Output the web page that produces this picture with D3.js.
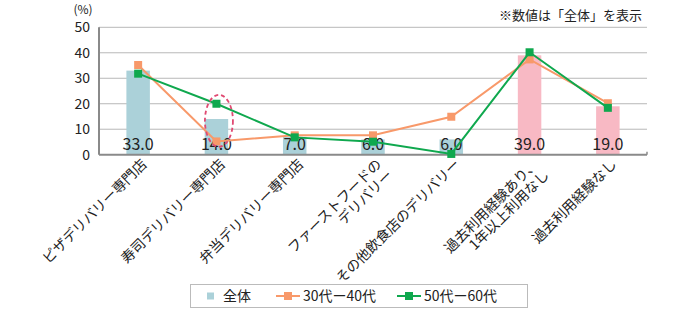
<!DOCTYPE html>
<html>
<head>
<meta charset="utf-8">
<script src="https://cdn.jsdelivr.net/npm/d3@7"></script>
<style>
body { margin: 0; background: #fff; }
text { font-family: "Noto Sans CJK JP", "Noto Sans", sans-serif; fill: #222; }
</style>
</head>
<body>
<div id="canvas"></div>
<script>
// ----------------------------------------------------------
// DATA -----------------------------------------------------
// ----------------------------------------------------------
var categories = [
["ピザデリバリー専門店"],
["寿司デリバリー専門店"],
["弁当デリバリー専門店"],
["ファーストフードの", "デリバリー"],
["その他飲食店のデリバリー"],
["過去利用経験あり、", "1年以上利用なし"],
["過去利用経験なし"]
];
var total_values = [33.0, 14.0, 7.0, 6.0, 6.0, 39.0, 19.0];
var age_30_40 = [35.2, 5.2, 7.6, 7.6, 14.9, 37.4, 20.2];
var age_50_60 = [31.8, 20.0, 6.8, 5.1, 0.3, 40.2, 18.4];
var y_ticks = [0, 10, 20, 30, 40, 50];
var series_names = ["全体", "30代ー40代", "50代ー60代"];

var colors = {
bar_blue: "#abd1d9",
bar_pink: "#f8b9c4",
orange: "#f8996a",
green: "#0fa84e",
grid: "#b8b8b8",
axis: "#8a8a8a"
};

// ----------------------------------------------------------
// STRUCTURE ------------------------------------------------
// ----------------------------------------------------------
var svg = d3.select("#canvas").append("svg")
.attr("width", 690)
.attr("height", 310);

var plot = { left: 99, right: 647, top: 27.3, bottom: 154.7 };

var keys = categories.map((c, i) => "c" + i);

var xScale = d3.scaleBand()
.domain(keys)
.range([plot.left, plot.right]);

var yScale = d3.scaleLinear()
.domain([0, 50])
.range([plot.bottom, plot.top]);

var cx = (i) => xScale(keys[i]) + xScale.bandwidth() / 2;

// grid lines
svg.append("g")
.selectAll("line")
.data(y_ticks.filter((t) => t > 0))
.enter()
.append("line")
.attr("x1", plot.left)
.attr("x2", plot.right)
.attr("y1", (t) => yScale(t))
.attr("y2", (t) => yScale(t))
.attr("stroke", colors.grid)
.attr("stroke-width", 1);

// y axis labels
var yAxis = svg.append("g")
.attr("transform", `translate(${plot.left}, 0)`)
.call(d3.axisLeft(yScale).tickValues(y_ticks).tickSize(0).tickPadding(9));
yAxis.select(".domain").remove();
yAxis.selectAll("text")
.style("font-family", "'Noto Sans CJK JP', sans-serif")
.style("font-size", "14px")
.attr("fill", "#222");

svg.append("text")
.attr("x", 83)
.attr("y", 14)
.attr("text-anchor", "middle")
.style("font-size", "12px")
.text("(%)");

svg.append("text")
.attr("x", 642)
.attr("y", 20)
.attr("text-anchor", "end")
.style("font-size", "13px")
.text("※数値は「全体」を表示");

// BARS -----------------------------------------------------
var barW = xScale.bandwidth() * 0.3;
svg.append("g")
.selectAll("rect")
.data(total_values)
.enter()
.append("rect")
.attr("x", (d, i) => cx(i) - barW / 2)
.attr("y", (d) => yScale(d))
.attr("width", barW)
.attr("height", (d) => yScale(0) - yScale(d))
.attr("fill", (d, i) => i >= 5 ? colors.bar_pink : colors.bar_blue);

// axes lines
svg.append("line")
.attr("x1", plot.left).attr("x2", plot.left)
.attr("y1", plot.top).attr("y2", plot.bottom)
.attr("stroke", colors.axis).attr("stroke-width", 2);
svg.append("line")
.attr("x1", plot.left).attr("x2", plot.right)
.attr("y1", plot.bottom).attr("y2", plot.bottom)
.attr("stroke", colors.axis).attr("stroke-width", 2);
svg.append("line")
.attr("x1", plot.right).attr("x2", plot.right)
.attr("y1", plot.bottom).attr("y2", plot.bottom - 3)
.attr("stroke", colors.axis).attr("stroke-width", 1.5);

// bar value labels
svg.append("g")
.selectAll("text")
.data(total_values)
.enter()
.append("text")
.attr("x", (d, i) => cx(i))
.attr("y", yScale(0) - 5)
.attr("text-anchor", "middle")
.style("font-size", "16px")
.text((d) => d.toFixed(1));

// LINES ----------------------------------------------------
function drawSeries(values, color) {
var line = d3.line()
.x((d, i) => cx(i))
.y((d) => yScale(d));
svg.append("path")
.datum(values)
.attr("d", line)
.attr("fill", "none")
.attr("stroke", color)
.attr("stroke-width", 2);
svg.append("g")
.selectAll("rect")
.data(values)
.enter()
.append("rect")
.attr("x", (d, i) => cx(i) - 4)
.attr("y", (d) => yScale(d) - 4)
.attr("width", 8)
.attr("height", 8)
.attr("fill", color);
}
drawSeries(age_30_40, colors.orange);
drawSeries(age_50_60, colors.green);

// highlight ellipse
svg.append("ellipse")
.attr("cx", cx(1) + 2.5)
.attr("cy", yScale(13.3))
.attr("rx", 14)
.attr("ry", 26)
.attr("fill", "none")
.attr("stroke", "#e04a72")
.attr("stroke-width", 1.8)
.attr("stroke-dasharray", "4,3");

// CATEGORY LABELS ------------------------------------------
var labels = svg.append("g")
.selectAll("text")
.data(categories)
.enter()
.append("text")
.attr("transform", (d, i) => `translate(${cx(i) + 6}, ${plot.bottom + 7}) rotate(-45)`)
.attr("text-anchor", "end")
.style("font-size", "14px");
labels.each(function (d) {
var t = d3.select(this);
d.forEach((s, k) => {
t.append("tspan")
.attr("x", 0)
.attr("dy", k === 0 ? "0.35em" : "1.1em")
.text(s);
});
});

// LEGEND ---------------------------------------------------
var legend = svg.append("g");
legend.append("rect")
.attr("x", 190.5).attr("y", 284.5)
.attr("width", 337).attr("height", 23)
.attr("fill", "#fff")
.attr("stroke", "#bbb");
var ly = 296;
legend.append("rect")
.attr("x", 207).attr("y", ly - 3.5)
.attr("width", 7).attr("height", 7)
.attr("fill", colors.bar_blue);
legend.append("text")
.attr("x", 223).attr("y", ly + 5)
.style("font-size", "14px")
.text(series_names[0]);
[[276, colors.orange, series_names[1]], [397, colors.green, series_names[2]]].forEach((it) => {
legend.append("line")
.attr("x1", it[0]).attr("x2", it[0] + 24)
.attr("y1", ly).attr("y2", ly)
.attr("stroke", it[1]).attr("stroke-width", 2);
legend.append("rect")
.attr("x", it[0] + 8).attr("y", ly - 4)
.attr("width", 8).attr("height", 8)
.attr("fill", it[1]);
legend.append("text")
.attr("x", it[0] + 27).attr("y", ly + 5)
.style("font-size", "14px")
.text(it[2]);
});
</script>
</body>
</html>
